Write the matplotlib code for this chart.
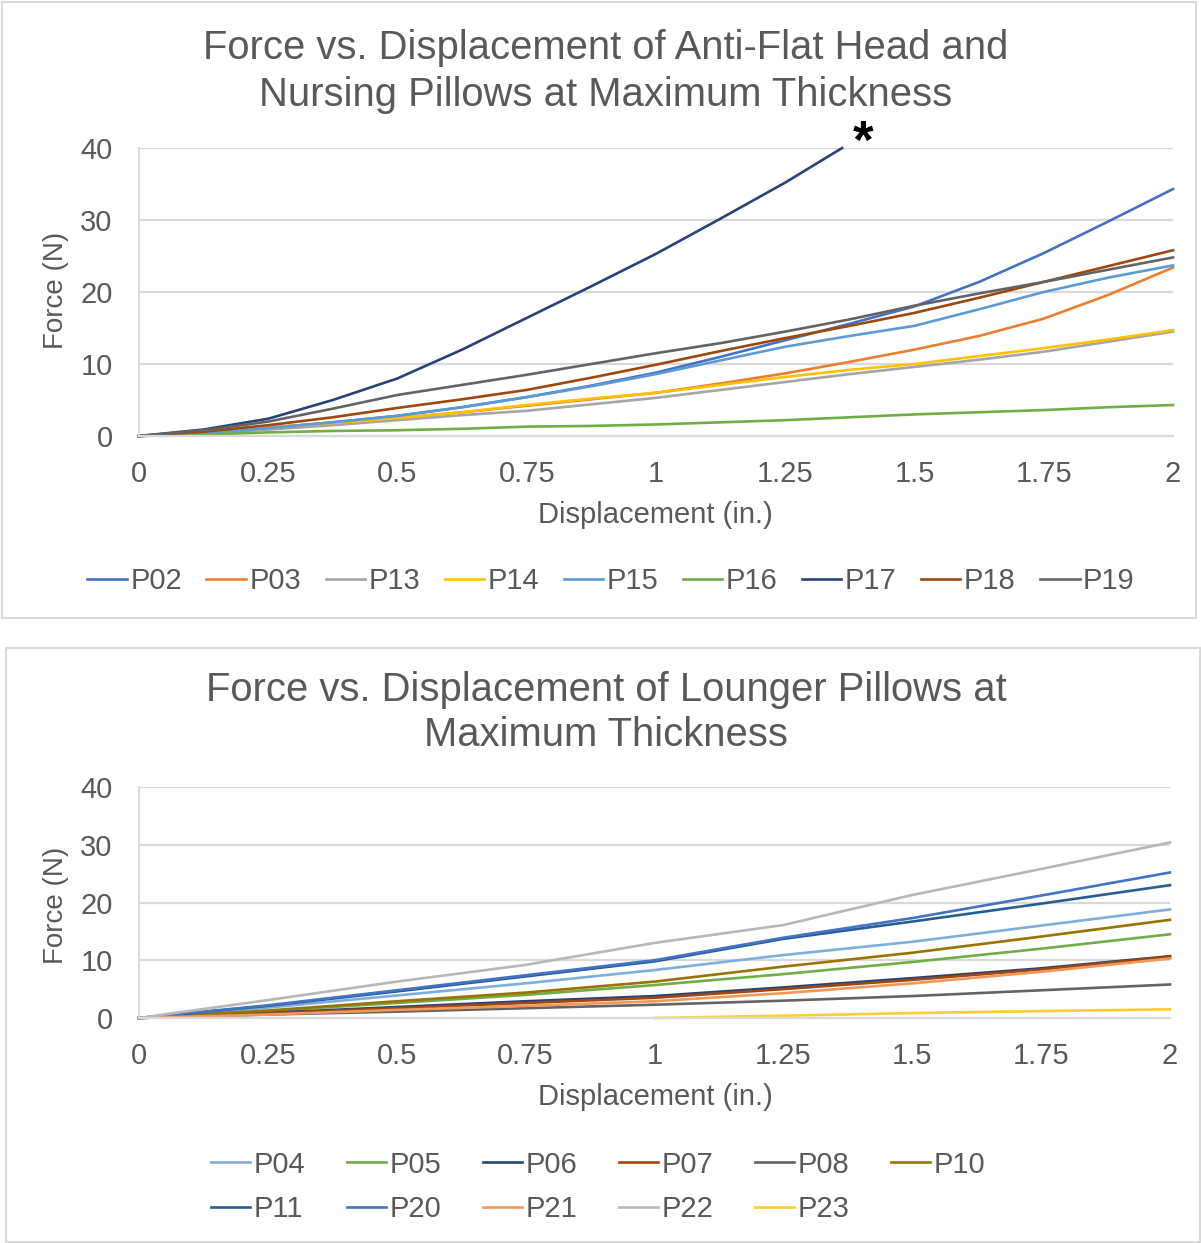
import matplotlib
matplotlib.use("Agg")
import matplotlib.pyplot as plt
from matplotlib.patches import Rectangle

plt.rcParams['font.family'] = ['Liberation Sans', 'DejaVu Sans']

# ---------------- data ----------------
X_TICKS = [0, 0.25, 0.5, 0.75, 1, 1.25, 1.5, 1.75, 2]
X_TICK_LABELS = ["0", "0.25", "0.5", "0.75", "1", "1.25", "1.5", "1.75", "2"]
Y_TICKS = [0, 10, 20, 30, 40]

# Top chart: Anti-flat head & nursing pillows
X_TOP = [0, 0.125, 0.25, 0.375, 0.5, 0.625, 0.75, 0.875, 1.0,
         1.125, 1.25, 1.375, 1.5, 1.625, 1.75, 1.875, 2.0]
P02 = [0, 0.4, 1.1, 1.9, 2.8, 4.0, 5.4, 7.0, 8.8, 11.0, 13.3, 15.6, 18.0, 21.4, 25.4, 29.8, 34.3]
P03 = [0, 0.4, 1.2, 1.8, 2.5, 3.3, 4.2, 5.1, 6.0, 7.3, 8.7, 10.3, 12.0, 13.9, 16.3, 19.6, 23.4]
P13 = [0, 0.3, 0.9, 1.5, 2.2, 2.9, 3.5, 4.4, 5.3, 6.4, 7.5, 8.6, 9.6, 10.6, 11.7, 13.1, 14.5]
P14 = [0, 0.4, 1.2, 1.8, 2.5, 3.3, 4.3, 5.2, 6.0, 7.1, 8.2, 9.2, 10.0, 11.1, 12.2, 13.4, 14.7]
P15 = [0, 0.4, 1.1, 1.9, 2.8, 4.0, 5.4, 6.9, 8.6, 10.5, 12.4, 13.9, 15.3, 17.6, 20.0, 22.0, 23.7]
P16 = [0, 0.2, 0.5, 0.7, 0.8, 1.0, 1.3, 1.4, 1.6, 1.9, 2.2, 2.6, 3.0, 3.3, 3.6, 4.0, 4.3]
X_P17 = [0, 0.125, 0.25, 0.375, 0.5, 0.625, 0.75, 0.875, 1.0, 1.125, 1.25, 1.36]
P17 = [0, 0.9, 2.4, 5.0, 8.0, 12.0, 16.4, 20.8, 25.3, 30.2, 35.2, 40.0]
P18 = [0, 0.6, 1.5, 2.6, 3.9, 5.1, 6.4, 8.1, 9.9, 11.8, 13.6, 15.3, 17.1, 19.2, 21.4, 23.6, 25.8]
P19 = [0, 0.8, 2.0, 3.8, 5.7, 7.1, 8.5, 10.0, 11.5, 12.9, 14.5, 16.2, 18.1, 19.8, 21.4, 23.1, 24.8]

# Bottom chart: Lounger pillows
X_BOT = [0, 0.25, 0.5, 0.75, 1.0, 1.25, 1.5, 1.75, 2.0]
P04 = [0, 1.8, 3.9, 6.0, 8.3, 10.9, 13.2, 16.0, 18.8]
P05 = [0, 1.2, 2.6, 4.0, 5.7, 7.6, 9.7, 12.0, 14.5]
P06 = [0, 0.9, 1.9, 2.9, 3.8, 5.3, 6.9, 8.6, 10.7]
P07 = [0, 0.8, 1.7, 2.6, 3.5, 5.0, 6.6, 8.4, 10.6]
P08 = [0, 0.6, 1.1, 1.7, 2.3, 3.0, 3.8, 4.8, 5.8]
P10 = [0, 1.3, 2.9, 4.4, 6.3, 8.9, 11.3, 14.1, 17.0]
P11 = [0, 2.1, 4.6, 7.2, 9.8, 13.7, 16.7, 19.8, 23.0]
P20 = [0, 2.2, 4.8, 7.4, 10.0, 13.9, 17.3, 21.2, 25.2]
P21 = [0, 0.6, 1.4, 2.1, 2.9, 4.3, 6.0, 8.0, 10.3]
P22 = [0, 3.1, 6.3, 9.2, 13.0, 16.1, 21.3, 25.8, 30.4]
X_P23 = [1.0, 1.25, 1.5, 1.75, 2.0]
P23 = [0, 0.4, 0.85, 1.2, 1.5]

TOP_SERIES = [
    ("P02", X_TOP, P02, "#4472C4"),
    ("P03", X_TOP, P03, "#ED7D31"),
    ("P13", X_TOP, P13, "#A5A5A5"),
    ("P14", X_TOP, P14, "#FFC000"),
    ("P15", X_TOP, P15, "#5B9BD5"),
    ("P16", X_TOP, P16, "#70AD47"),
    ("P17", X_P17, P17, "#264478"),
    ("P18", X_TOP, P18, "#9E480E"),
    ("P19", X_TOP, P19, "#636363"),
]
BOT_SERIES = [
    ("P04", X_BOT, P04, "#7EAEDD"),
    ("P05", X_BOT, P05, "#70AD47"),
    ("P06", X_BOT, P06, "#264478"),
    ("P07", X_BOT, P07, "#9E480E"),
    ("P08", X_BOT, P08, "#636363"),
    ("P10", X_BOT, P10, "#997300"),
    ("P11", X_BOT, P11, "#255E91"),
    ("P20", X_BOT, P20, "#4472C4"),
    ("P21", X_BOT, P21, "#F1975A"),
    ("P22", X_BOT, P22, "#B7B7B7"),
    ("P23", X_P23, P23, "#FFCD33"),
]

TITLE_TOP = ["Force vs. Displacement of Anti-Flat Head and", "Nursing Pillows at Maximum Thickness"]
TITLE_BOT = ["Force vs. Displacement of Lounger Pillows at", "Maximum Thickness"]
XLABEL = "Displacement (in.)"
YLABEL = "Force (N)"

# ---------------- figure ----------------
W, H = 1201, 1243
fig = plt.figure(figsize=(W / 100, H / 100), dpi=100)
TXT = "#595959"
GRID = "#D9D9D9"


def fx(px):
    return px / W


def fy(py):
    return 1 - py / H


# panel borders
fig.patches.append(Rectangle((fx(2), fy(618)), fx(1196) - fx(2), fy(2) - fy(618),
                             transform=fig.transFigure, fill=False, edgecolor=GRID, lw=1.5))
fig.patches.append(Rectangle((fx(6), fy(1242)), fx(1200) - fx(6), fy(648) - fy(1242),
                             transform=fig.transFigure, fill=False, edgecolor=GRID, lw=1.5))


def make_axes(left, right, top, bottom, series):
    ax = fig.add_axes([fx(left), fy(bottom), fx(right) - fx(left), fy(top) - fy(bottom)])
    ax.set_xlim(0, 2)
    ax.set_ylim(0, 40)
    ax.set_xticks(X_TICKS)
    ax.set_xticklabels(X_TICK_LABELS)
    ax.set_yticks(Y_TICKS)
    for s in ["top", "right"]:
        ax.spines[s].set_visible(False)
    ax.spines["left"].set_color(GRID)
    ax.spines["bottom"].set_color(GRID)
    ax.spines["left"].set_linewidth(1.4)
    ax.spines["bottom"].set_linewidth(1.6)
    ax.tick_params(axis="both", length=0, labelsize=21, colors=TXT)
    ax.tick_params(axis="x", pad=17)
    ax.tick_params(axis="y", pad=19)
    ax.yaxis.grid(True, color=GRID, lw=1.6)
    ax.set_axisbelow(True)
    handles = []
    for name, xs, ys, col in series:
        ln, = ax.plot(xs, ys, color=col, lw=1.9, label=name, clip_on=False,
                      solid_joinstyle="round")
        handles.append(ln)
    return ax, handles


# Top chart
ax1, h1 = make_axes(139, 1173, 148, 436, TOP_SERIES)
fig.text(fx(606), fy(48), TITLE_TOP[0], ha="center", va="center", fontsize=28.8, color=TXT)
fig.text(fx(606), fy(95), TITLE_TOP[1], ha="center", va="center", fontsize=28.8, color=TXT)
fig.text(fx(655), fy(515), XLABEL, ha="center", va="center", fontsize=21, color=TXT)
fig.text(fx(56), fy(290), YLABEL, ha="center", va="center", fontsize=20, color=TXT, rotation=90)
ax1.text(1.4, 40.6, "*", ha="center", va="center", fontsize=38, fontweight="bold",
         color="black", clip_on=False)
fig.legend(handles=h1, labels=[s[0] for s in TOP_SERIES], loc="center",
           bbox_to_anchor=(fx(611), fy(581)), ncol=9, frameon=False, fontsize=21,
           handlelength=1.35, handletextpad=0.12, columnspacing=0.84, labelcolor=TXT)

# Bottom chart
ax2, h2 = make_axes(139, 1170, 787, 1018, BOT_SERIES)
fig.text(fx(606), fy(690), TITLE_BOT[0], ha="center", va="center", fontsize=28.8, color=TXT)
fig.text(fx(606), fy(735), TITLE_BOT[1], ha="center", va="center", fontsize=28.8, color=TXT)
fig.text(fx(655), fy(1097), XLABEL, ha="center", va="center", fontsize=21, color=TXT)
fig.text(fx(56), fy(905), YLABEL, ha="center", va="center", fontsize=20, color=TXT, rotation=90)

# row-major order for a 6-column, 2-row legend (matplotlib fills columns first)
order = [0, 6, 1, 7, 2, 8, 3, 9, 4, 10, 5]
fig.legend(handles=[h2[i] for i in order], labels=[BOT_SERIES[i][0] for i in order],
           loc="center", bbox_to_anchor=(fx(598), fy(1187)), ncol=6, frameon=False,
           fontsize=21, handlelength=1.35, handletextpad=0.12, columnspacing=1.42,
           labelspacing=0.58, labelcolor=TXT)

fig.savefig("out.png", dpi=100)
